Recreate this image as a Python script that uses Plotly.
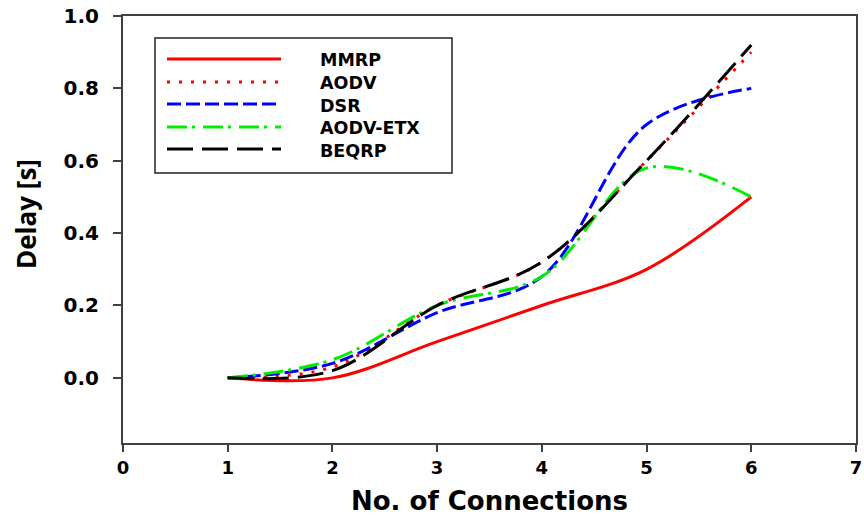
import plotly.graph_objects as go

# ---- data ----
connections = [1, 2, 3, 4, 5, 6]
mmrp = [0.00, 0.00, 0.10, 0.20, 0.30, 0.50]
aodv = [0.00, 0.03, 0.20, 0.32, 0.60, 0.90]
dsr = [0.00, 0.04, 0.18, 0.28, 0.70, 0.80]
aodv_etx = [0.00, 0.05, 0.20, 0.28, 0.58, 0.50]
beqrp = [0.00, 0.02, 0.20, 0.32, 0.60, 0.92]

series_names = ["MMRP", "AODV", "DSR", "AODV-ETX", "BEQRP"]
series_vals = [mmrp, aodv, dsr, aodv_etx, beqrp]
colors = ["#ff0000", "#ff0000", "#0000ff", "#00ee00", "#000000"]
dashes = ["solid", "3px,9px", "14px,5px", "20px,5px,3px,8px", "26px,9px"]

x_ticks = [0, 1, 2, 3, 4, 5, 6, 7]
y_ticks = [0.0, 0.2, 0.4, 0.6, 0.8, 1.0]

fig = go.Figure()
for name, vals, c, d in zip(series_names, series_vals, colors, dashes):
    fig.add_trace(go.Scatter(
        x=connections, y=vals, name=name, mode="lines",
        line=dict(color=c, width=3, dash=d, shape="spline", smoothing=1.0),
        showlegend=False,
    ))

# ---- layout helpers (pixel -> paper) ----
W, H = 864, 517
plot_left, plot_right, plot_top, plot_bottom = 123, 856, 16, 443
ml, mr, mt, mb = plot_left, W - plot_right, plot_top, H - plot_bottom
pw, ph = plot_right - plot_left, plot_bottom - plot_top

def px_x(p):
    return (p - plot_left) / pw

def px_y(p):
    return (plot_bottom - p) / ph

# ---- manual legend (long line samples, like the original) ----
shapes = [dict(type="rect", xref="paper", yref="paper",
               x0=px_x(155), x1=px_x(452), y0=px_y(173), y1=px_y(38),
               line=dict(color="#222222", width=1.5), fillcolor="white", layer="below")]
annotations = []
row_y = [59, 82, 104, 127, 149]
for i, (c, d) in enumerate(zip(colors, dashes)):
    yy = px_y(row_y[i])
    shapes.append(dict(type="line", xref="paper", yref="paper",
                       x0=px_x(167), x1=px_x(281), y0=yy, y1=yy,
                       line=dict(color=c, width=3, dash=d)))
annotations.append(dict(xref="paper", yref="paper", x=px_x(318), y=px_y(48),
                        text="<br>".join(series_names), showarrow=False,
                        xanchor="left", yanchor="top", align="left",
                        font=dict(family="DejaVu Sans", size=17.5, color="black", weight="bold")))

# axis titles
annotations.append(dict(xref="paper", yref="paper", x=px_x(489), y=px_y(501),
                        text="No. of Connections", showarrow=False,
                        xanchor="center", yanchor="middle",
                        font=dict(family="DejaVu Sans", size=26, color="black", weight="bold")))
annotations.append(dict(xref="paper", yref="paper", x=px_x(26), y=px_y(214),
                        text="Delay [s]", showarrow=False, textangle=-90,
                        xanchor="center", yanchor="middle",
                        font=dict(family="Open Sans", size=26, color="black", weight="bold")))

fig.update_layout(
    width=W, height=H,
    margin=dict(l=ml, r=mr, t=mt, b=mb, autoexpand=False),
    paper_bgcolor="white", plot_bgcolor="white",
    shapes=shapes, annotations=annotations,
    showlegend=False,
)
fig.update_xaxes(
    range=[0, 7], tickvals=x_ticks, ticktext=[str(v) for v in x_ticks],
    showgrid=False, zeroline=False, automargin=False, ticklabeloverflow="allow",
    showline=True, linecolor="#404040", linewidth=2, mirror=True,
    ticks="outside", ticklen=7, tickwidth=1.5, tickcolor="#404040",
    tickfont=dict(family="DejaVu Sans", size=18, color="black", weight="bold"),
)
fig.update_yaxes(
    range=[-0.18, 1.0], tickvals=y_ticks, ticktext=[f"{v:.1f}" for v in y_ticks],
    showgrid=False, zeroline=False, automargin=False, ticklabeloverflow="allow",
    showline=True, linecolor="#404040", linewidth=2, mirror=True,
    ticks="outside", ticklen=8, tickwidth=1.5, tickcolor="#404040",
    ticklabelstandoff=10,
    tickfont=dict(family="DejaVu Sans", size=20, color="black", weight="bold"),
)

fig.write_html("out.html", config={"displayModeBar": False},
               post_script="document.body.style.margin='0';")
